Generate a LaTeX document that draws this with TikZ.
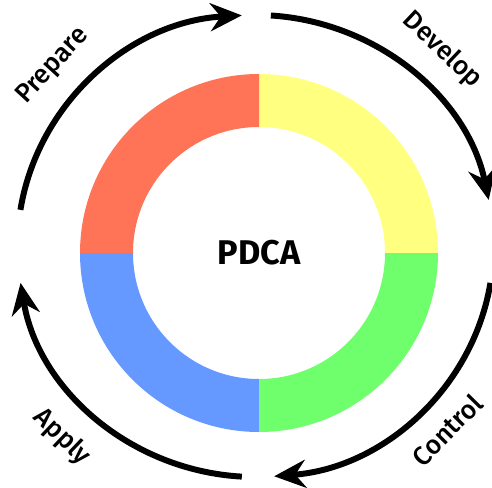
\documentclass[tikz,border=0pt]{standalone}
\usepackage{fontspec}
\setmainfont{Fira Sans}
\newfontfamily\phasefont{Fira Sans Medium}
\usetikzlibrary{arrows.meta}

\definecolor{pdcared}{HTML}{FF7357}
\definecolor{pdcayellow}{HTML}{FFFF80}
\definecolor{pdcagreen}{HTML}{70FF6C}
\definecolor{pdcablue}{HTML}{6699FF}

\begin{document}
\begin{tikzpicture}[x=0.02cm, y=0.02cm,
    cycle arrow/.style={line width=3.4pt, -{Stealth[length=18pt, width=16pt, inset=6pt]}},
    phase label/.style={font=\phasefont\fontsize{15}{17}\selectfont, inner sep=1pt}]
\useasboundingbox (0,0) rectangle (492,487);

% ring of the four phases
\begin{scope}[shift={(259,234)}]
\fill[pdcayellow] (0:126) -- (0:179) arc (0:90:179) -- (90:126) arc (90:0:126) -- cycle;
\fill[pdcared] (90:126) -- (90:179) arc (90:180:179) -- (180:126) arc (180:90:126) -- cycle;
\fill[pdcablue] (180:126) -- (180:179) arc (180:270:179) -- (270:126) arc (270:180:126) -- cycle;
\fill[pdcagreen] (270:126) -- (270:179) arc (270:360:179) -- (360:126) arc (360:270:126) -- cycle;
\node[font=\bfseries\fontsize{19.5}{22}\selectfont] (pdca) at (0,0) {PDCA};
\end{scope}

% outer arrows
\begin{scope}[shift={(255.5,241)}]
\draw[cycle arrow] (171:238 and 231) arc (171:93.3:238 and 231);
\draw[cycle arrow] (86.3:238 and 231) arc (86.3:11.5:238 and 231);
\draw[cycle arrow] (-9.2:238 and 231) arc (-9.2:-85.5:238 and 231);
\draw[cycle arrow] (266.7:238 and 231) arc (266.7:189.2:238 and 231);
\end{scope}

\node[phase label, rotate=47.5] (prepare) at (53,421) {Prepare};
\node[phase label, rotate=-43.5] (develop) at (442,437) {Develop};
\node[phase label, rotate=45.5] (control) at (447,57) {Control};
\node[phase label, rotate=-43.6] (apply) at (62,50) {Apply};

\end{tikzpicture}
\end{document}
